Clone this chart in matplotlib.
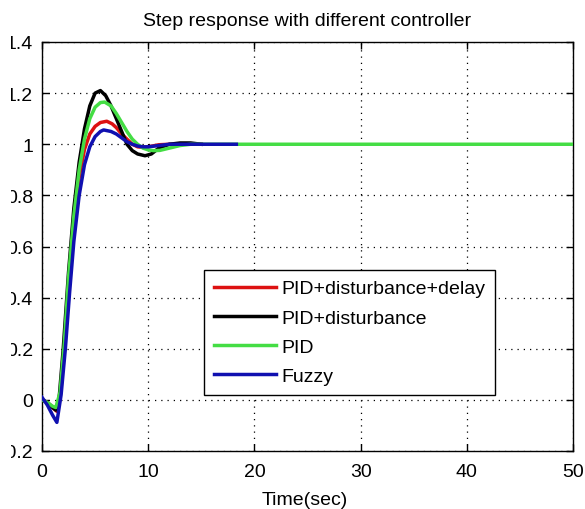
import matplotlib
matplotlib.use("Agg")
import matplotlib.pyplot as plt
from matplotlib.patches import Rectangle

# ---- data ----
t_delay = [0, 0.5, 1.0, 1.4, 1.8, 2.2, 2.6, 3.0, 3.5, 4.0, 4.5, 5.0, 5.5, 6.1, 6.6, 7.0,
           7.5, 8.0, 8.5, 9.0, 9.5, 10.0, 11.0, 12.0, 15.0]
y_delay = [0, -0.01, -0.03, -0.045, 0.05, 0.25, 0.5, 0.7, 0.87, 0.98, 1.04, 1.07, 1.085, 1.09,
           1.08, 1.065, 1.04, 1.02, 1.0, 0.99, 0.988, 0.99, 0.998, 1.0, 1.0]

t_dist = [0, 0.5, 1.0, 1.3, 1.6, 2.0, 2.5, 3.0, 3.5, 4.0, 4.5, 5.0, 5.5, 6.0, 6.5, 7.0,
          7.5, 8.0, 8.5, 9.0, 9.7, 10.3, 11.0, 12.0, 13.0, 14.0, 15.0]
y_dist = [0, -0.01, -0.03, -0.04, 0.0, 0.2, 0.5, 0.75, 0.93, 1.06, 1.15, 1.2, 1.21, 1.19,
          1.15, 1.1, 1.05, 1.0, 0.975, 0.962, 0.955, 0.962, 0.985, 1.0, 1.005, 1.005, 1.0]

t_pid = [0, 0.5, 1.0, 1.3, 1.7, 2.1, 2.5, 3.0, 3.5, 4.0, 4.5, 5.0, 5.5, 5.9, 6.5, 7.0, 7.5,
         8.0, 8.5, 9.0, 9.5, 10.0, 10.5, 11.1, 12.0, 13.0, 14.0, 16.0, 50.0]
y_pid = [0, -0.01, -0.025, -0.03, 0.03, 0.22, 0.48, 0.72, 0.9, 1.02, 1.1, 1.145, 1.163,
         1.165, 1.15, 1.12, 1.085, 1.05, 1.02, 1.0, 0.985, 0.978, 0.975, 0.976, 0.985,
         0.995, 1.0, 1.0, 1.0]

t_fuzzy = [0, 0.5, 1.0, 1.4, 1.8, 2.2, 2.6, 3.0, 3.5, 4.0, 4.5, 5.0, 5.5, 5.8, 6.5, 7.0,
           7.5, 8.0, 8.5, 9.0, 9.5, 10.0, 11.0, 12.0, 13.0, 14.0, 16.0, 18.3]
y_fuzzy = [0.01, -0.02, -0.06, -0.088, 0.02, 0.2, 0.42, 0.62, 0.8, 0.92, 0.99, 1.03, 1.05,
           1.056, 1.05, 1.04, 1.025, 1.01, 1.0, 0.993, 0.99, 0.99, 0.995, 1.0, 1.0, 1.0,
           1.0, 1.0]

labels = ["PID+disturbance+delay", "PID+disturbance", "PID", "Fuzzy"]
x_ticks = [0, 10, 20, 30, 40, 50]
y_ticks = [-0.2, 0, 0.2, 0.4, 0.6, 0.8, 1.0, 1.2, 1.4]
y_tick_labels = ["-0.2", "0", "0.2", "0.4", "0.6", "0.8", "1", "1.2", "1.4"]
title = "Step response with different controller"
xlabel = "Time(sec)"

# ---- figure ----
plt.rcParams["font.family"] = ["Liberation Sans", "DejaVu Sans"]
fig = plt.figure(figsize=(5.85, 5.10), dpi=100)
ax = fig.add_axes([42 / 585, 58 / 510, 531 / 585, 409 / 510])

lw = 2.5
ax.plot(t_delay, y_delay, color="#dd1111", lw=lw, label=labels[0], zorder=3)
ax.plot(t_dist, y_dist, color="black", lw=lw, label=labels[1], zorder=3)
ax.plot(t_pid, y_pid, color="#44dd44", lw=lw, label=labels[2], zorder=3)
ax.plot(t_fuzzy, y_fuzzy, color="#1010b0", lw=lw, label=labels[3], zorder=3)

ax.set_xlim(0, 50)
ax.set_ylim(-0.2, 1.4)
ax.set_xticks(x_ticks)
ax.set_xticklabels([str(v) for v in x_ticks])
ax.set_yticks(y_ticks)
ax.set_yticklabels(y_tick_labels)
ax.tick_params(direction="in", length=5, width=1, top=True, right=True,
               labelsize=14, colors="black")
ax.tick_params(axis="y", pad=6.5)
ax.tick_params(axis="x", pad=9)
ax.grid(True, color="black", linestyle=(0, (1, 4)), linewidth=0.9, zorder=1)
for s in ax.spines.values():
    s.set_linewidth(1.0)
    s.set_color("black")

leg = ax.legend(loc="upper left", bbox_to_anchor=(162 / 531, 181 / 409),
                borderaxespad=0, fontsize=14, handlelength=3.2, handletextpad=0.26,
                borderpad=0.5, labelspacing=0.6, fancybox=False, framealpha=1,
                edgecolor="black")
leg.get_frame().set_linewidth(1.0)
leg.set_zorder(5)

fig.text(307 / 585, 1 - 26 / 510, title, ha="center", va="baseline", fontsize=14)
fig.text(305 / 585, 1 - 505 / 510, xlabel, ha="center", va="baseline", fontsize=14)

# cropped edges of the original screenshot
fig.patches.append(Rectangle((0, 0), 11 / 585, 1, transform=fig.transFigure,
                             facecolor="white", edgecolor="none", zorder=10))
fig.patches.append(Rectangle((0, 1 - 13 / 510), 1, 13 / 510, transform=fig.transFigure,
                             facecolor="white", edgecolor="none", zorder=10))

fig.savefig("out.png", dpi=100)
